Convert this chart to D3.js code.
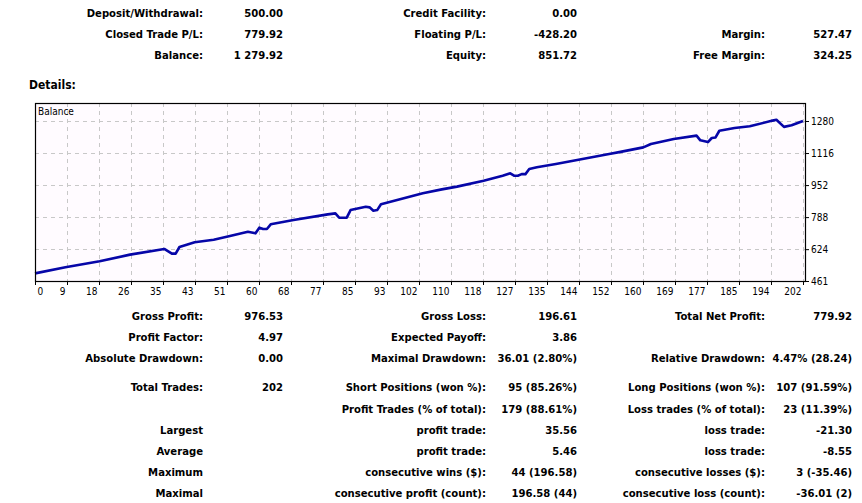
<!DOCTYPE html>
<html>
<head>
<meta charset="utf-8">
<script src="https://cdn.jsdelivr.net/npm/d3@7"></script>
<style>
  body { margin: 0; background: #ffffff; }
  svg { display: block; }
</style>
</head>
<body>
<svg id="svgx"></svg>
<script>
// ---------------- summary table (top)
const topLabels1 = ["Deposit/Withdrawal:", "Closed Trade P/L:", "Balance:"];
const topValues1 = ["500.00", "779.92", "1 279.92"];
const topLabels2 = ["Credit Facility:", "Floating P/L:", "Equity:"];
const topValues2 = ["0.00", "-428.20", "851.72"];
const topLabels3 = ["", "Margin:", "Free Margin:"];
const topValues3 = ["", "527.47", "324.25"];

// ---------------- stats table (bottom)
const statLabels1 = ["Gross Profit:", "Profit Factor:", "Absolute Drawdown:", "Total Trades:", "", "Largest", "Average", "Maximum", "Maximal"];
const statValues1 = ["976.53", "4.97", "0.00", "202", "", "", "", "", ""];
const statLabels2 = ["Gross Loss:", "Expected Payoff:", "Maximal Drawdown:", "Short Positions (won %):", "Profit Trades (% of total):", "profit trade:", "profit trade:", "consecutive wins ($):", "consecutive profit (count):"];
const statValues2 = ["196.61", "3.86", "36.01 (2.80%)", "95 (85.26%)", "179 (88.61%)", "35.56", "5.46", "44 (196.58)", "196.58 (44)"];
const statLabels3 = ["Total Net Profit:", "", "Relative Drawdown:", "Long Positions (won %):", "Loss trades (% of total):", "loss trade:", "loss trade:", "consecutive losses ($):", "consecutive loss (count):"];
const statValues3 = ["779.92", "", "4.47% (28.24)", "107 (91.59%)", "23 (11.39%)", "-21.30", "-8.55", "3 (-35.46)", "-36.01 (2)"];

// ---------------- balance curve (trade number, balance)
const tradeNo = [0, 8, 17, 25, 34, 36, 37, 38, 42, 47, 51, 56, 58, 59, 60, 61, 62, 68, 77, 79, 80, 82, 83, 87, 88, 89, 90, 91,
  102, 107, 111, 118, 123, 125, 126, 127, 128, 129, 130, 132, 137, 144, 151, 154, 160, 162, 168, 174, 175, 177, 178, 179, 180,
  184, 188, 194, 195, 197, 199, 202];
const balance = [500, 531, 562, 596, 625, 601, 601, 635, 659, 672, 690, 713, 705, 734, 727, 727, 751, 773, 802, 807, 785, 785, 824, 841, 838, 821, 824, 854,
  910, 930, 944, 974, 1000, 1012, 1000, 1000, 1008, 1008, 1034, 1043, 1060, 1085, 1111, 1122, 1145, 1162, 1188, 1205, 1181, 1172, 1193, 1196, 1230,
  1244, 1253, 1282, 1286, 1250, 1258, 1279.92];

const xTickLabels = ["0", "9", "18", "26", "35", "43", "51", "60", "68", "77", "85", "93", "102", "110", "118", "127", "135", "144", "152", "160", "169", "177", "185", "194", "202"];
const yTickVals = [461, 624, 788, 952, 1116, 1280];

var widthA = 862, heightA = 503;
var boldFont = "'DejaVu Sans Condensed', 'DejaVu Sans', sans-serif";
var fontsize = 11.2;

var svg = d3.select('#svgx')
  .attr("width", widthA)
  .attr("height", heightA);

// ---------------- helper to write a right-aligned column
function column(texts, x, ys, weight) {
  svg.append('g').selectAll('text').data(texts).enter()
    .append('text')
    .attr('x', x)
    .attr('y', (d, i) => ys[i] + 4)
    .attr('text-anchor', 'end')
    .style('font-family', boldFont)
    .style('font-size', fontsize + 'px')
    .style('font-weight', weight)
    .style('fill', '#000')
    .text(d => d);
}

const topY = [13, 34, 55];
column(topLabels1, 203, topY, 700);
column(topValues1, 283, topY, 700);
column(topLabels2, 486, topY, 700);
column(topValues2, 577, topY, 700);
column(topLabels3, 765, topY, 700);
column(topValues3, 852, topY, 700);

svg.append('text')
  .attr('x', 29).attr('y', 89)
  .style('font-family', boldFont)
  .style('font-size', '12px')
  .style('font-weight', 700)
  .text('Details:');

const statY = [316, 337, 358, 387, 409, 430, 451, 472, 493];
column(statLabels1, 203, statY, 700);
column(statValues1, 283, statY, 700);
column(statLabels2, 486, statY, 700);
column(statValues2, 577, statY, 700);
column(statLabels3, 765, statY, 700);
column(statValues3, 852, statY, 700);

// ---------------- chart
const plot = { left: 35, top: 103, right: 806, bottom: 282 };

var xScale = d3.scaleLinear().domain([0, 202]).range([35, 803]);
var xTickScale = d3.scalePoint().domain(xTickLabels).range([35, 803]);
var yScale = d3.scaleLinear().domain([461, 1280]).range([281, 121]);

var chart = svg.append('g').attr('class', 'chart');

chart.append('rect')
  .attr('x', plot.left).attr('y', plot.top)
  .attr('width', plot.right - plot.left).attr('height', plot.bottom - plot.top)
  .attr('fill', '#fffbff');

// grid
chart.append('g').selectAll('line.vg').data(xTickLabels.slice(1)).enter()
  .append('line')
  .attr('x1', d => Math.round(xTickScale(d)) + 0.5).attr('x2', d => Math.round(xTickScale(d)) + 0.5)
  .attr('y1', plot.top).attr('y2', plot.bottom)
  .attr('stroke', '#c8c8c8').attr('stroke-dasharray', '4,4');

chart.append('g').selectAll('line.hg').data(yTickVals).enter()
  .append('line')
  .attr('x1', plot.left).attr('x2', plot.right)
  .attr('y1', d => Math.round(yScale(d)) + 0.5).attr('y2', d => Math.round(yScale(d)) + 0.5)
  .attr('stroke', '#c8c8c8').attr('stroke-dasharray', '4,4');

// balance line
chart.append('path')
  .datum(tradeNo.map((t, i) => [t, balance[i]]))
  .attr('d', d3.line().x(d => xScale(d[0])).y(d => yScale(d[1])))
  .attr('fill', 'none')
  .attr('stroke', '#0606a8')
  .attr('stroke-width', 2.6)
  .attr('stroke-linejoin', 'round');

// frame
chart.append('rect')
  .attr('x', plot.left + 0.5).attr('y', plot.top + 0.5)
  .attr('width', plot.right - plot.left - 1).attr('height', plot.bottom - plot.top - 1)
  .attr('fill', 'none').attr('stroke', '#000').attr('stroke-width', 1.2);

chart.append('text')
  .attr('x', 38).attr('y', 115)
  .style('font-family', boldFont)
  .style('font-size', '10px')
  .text('Balance');

// x axis
const xAxis = d3.axisBottom(xTickScale).tickSize(3).tickPadding(3);
const xAxisG = chart.append('g')
  .attr('transform', `translate(0,${plot.bottom})`)
  .call(xAxis);
xAxisG.select('.domain').remove();
xAxisG.selectAll('text')
  .attr('text-anchor', (d, i) => i === 0 ? 'start' : 'end')
  .attr('dx', (d, i) => i === 0 ? 2 : -2)
  .style('font-family', boldFont)
  .style('font-size', '10px');

// y axis
const yAxis = d3.axisRight(yScale).tickValues(yTickVals).tickFormat(d3.format('d')).tickSize(3).tickPadding(2);
const yAxisG = chart.append('g')
  .attr('transform', `translate(${plot.right},0)`)
  .call(yAxis);
yAxisG.select('.domain').remove();
yAxisG.selectAll('text')
  .style('font-family', boldFont)
  .style('font-size', '10px');
</script>
</body>
</html>
